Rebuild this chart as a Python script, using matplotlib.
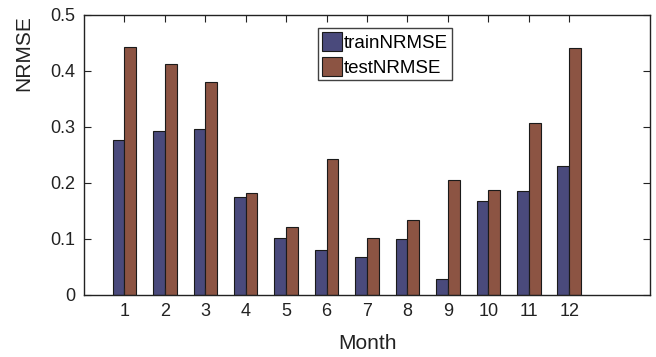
import numpy as np
import matplotlib.pyplot as plt

plt.rcParams['font.family'] = ['Liberation Sans', 'DejaVu Sans']

months = np.arange(1, 13)
train_nrmse = [0.276, 0.293, 0.296, 0.174, 0.102, 0.080, 0.067, 0.100, 0.029, 0.167, 0.186, 0.231]
test_nrmse = [0.443, 0.413, 0.381, 0.182, 0.121, 0.242, 0.101, 0.133, 0.205, 0.187, 0.307, 0.441]

train_color = '#4a4a7c'
test_color = '#8c5443'
w = 0.29

fig = plt.figure(figsize=(6.56, 3.57), dpi=100)
ax = fig.add_axes([0.128, 0.174, 0.863, 0.784])

ax.bar(months - w / 2, train_nrmse, width=w, color=train_color,
       edgecolor='#1a1a1a', linewidth=0.8, label='trainNRMSE')
ax.bar(months + w / 2, test_nrmse, width=w, color=test_color,
       edgecolor='#1a1a1a', linewidth=0.8, label='testNRMSE')

ax.set_xlim(0, 14)
ax.set_ylim(0, 0.5)
ax.set_xticks(months)
ax.set_yticks([0, 0.1, 0.2, 0.3, 0.4, 0.5])
ax.set_yticklabels(['0', '0.1', '0.2', '0.3', '0.4', '0.5'])
ax.tick_params(direction='in', top=True, right=True, labelsize=13,
               length=5, width=0.8, colors='#222222', pad=6)
for s in ax.spines.values():
    s.set_linewidth(1.0)
    s.set_color('#222222')

ax.set_xlabel('Month', fontsize=15, color='#222222', labelpad=10)
ax.set_ylabel('NRMSE', fontsize=15, color='#222222')
ax.yaxis.set_label_coords(-0.09, 0.8625)

leg = ax.legend(loc='upper left', bbox_to_anchor=(0.413, 0.954), fontsize=13.5,
                frameon=True, fancybox=False, edgecolor='#111111',
                handlelength=1.1, handleheight=1.25, handletextpad=0.08,
                borderpad=0.2, labelspacing=0.25, borderaxespad=0)
leg.get_frame().set_linewidth(1.0)

fig.savefig('out.png', dpi=100)
